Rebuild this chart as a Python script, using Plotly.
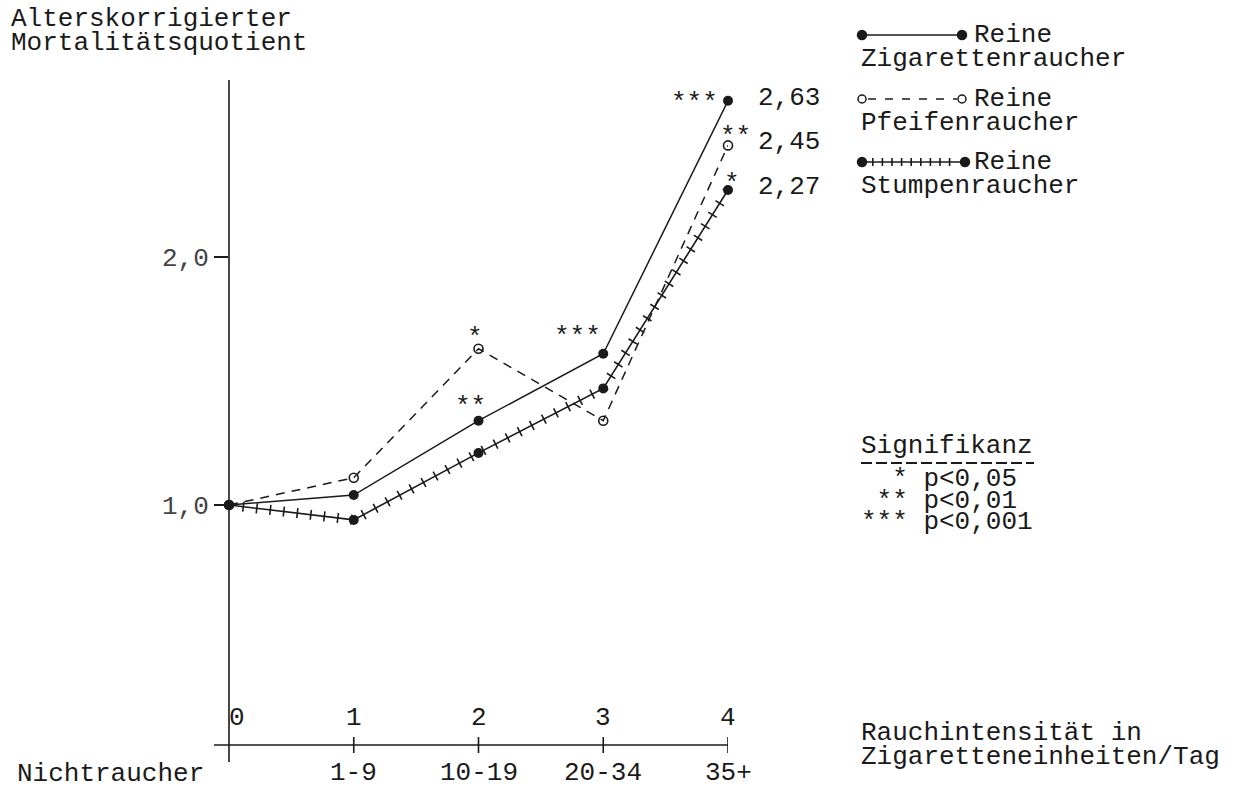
import plotly.graph_objects as go

# ---------------- data ----------------
x_codes = [0, 1, 2, 3, 4]
x_top_labels = ["0", "1", "2", "3", "4"]
x_bottom_labels = ["Nichtraucher", "1-9", "10-19", "20-34", "35+"]

zig = [1.00, 1.04, 1.34, 1.61, 2.63]
pfeife = [1.00, 1.11, 1.63, 1.34, 2.45]
stumpen = [1.00, 0.94, 1.21, 1.47, 2.27]

zig_sig = ["", "", "**", "***", "***"]
pfeife_sig = ["", "", "*", "", "**"]
stumpen_sig = ["", "", "", "", "*"]

end_labels = ["2,63", "2,45", "2,27"]

y_tickvals = [1.0, 2.0]
y_ticktext = ["1,0", "2,0"]

sig_legend = ["\u00a0\u00a0* p<0,05", "\u00a0** p<0,01", "*** p<0,001"]

# ---------------- layout helpers ----------------
W, H = 1240, 789
FONT = "Liberation Mono"
FS = 26
INK = "#1a1a1a"


def px(x):
    return x / W


def py(y):
    return 1 - y / H


# plot geometry (pixels)
X0, X4 = 229, 728
Y_AX, Y_TOP = 745, 80
Y_ONE, PX_PER_UNIT = 505, 248.0
y_lo = 1.0 - (Y_AX - Y_ONE) / PX_PER_UNIT
y_hi = 1.0 + (Y_ONE - Y_TOP) / PX_PER_UNIT

fig = go.Figure()

# Pfeifenraucher: dashed with open circles
fig.add_trace(go.Scatter(
    x=x_codes, y=pfeife, mode="lines+markers",
    line=dict(color=INK, width=1.5, dash="9px,7px"),
    marker=dict(symbol="circle-open", size=9, color=INK, line=dict(width=1.6, color=INK)),
    cliponaxis=False, showlegend=False, hoverinfo="skip"))

# Stumpenraucher: line + cross hatch
fig.add_trace(go.Scatter(
    x=x_codes, y=stumpen, mode="lines",
    line=dict(color=INK, width=10, dash="1.6px,12px"),
    cliponaxis=False, showlegend=False, hoverinfo="skip"))
fig.add_trace(go.Scatter(
    x=x_codes, y=stumpen, mode="lines+markers",
    line=dict(color=INK, width=1.6),
    marker=dict(symbol="circle", size=10, color=INK),
    cliponaxis=False, showlegend=False, hoverinfo="skip"))

# Zigarettenraucher: solid with filled dots
fig.add_trace(go.Scatter(
    x=x_codes, y=zig, mode="lines+markers",
    line=dict(color=INK, width=1.5),
    marker=dict(symbol="circle", size=10, color=INK),
    cliponaxis=False, showlegend=False, hoverinfo="skip"))

shapes = []
annotations = []

# axes lines
shapes.append(dict(type="line", xref="paper", yref="paper",
                   x0=px(X0), x1=px(X0), y0=py(762), y1=py(Y_TOP),
                   line=dict(color=INK, width=1.6)))
shapes.append(dict(type="line", xref="paper", yref="paper",
                   x0=px(214), x1=px(X4), y0=py(Y_AX), y1=py(Y_AX),
                   line=dict(color=INK, width=1.6)))
# x ticks (crossing)
for xc in x_codes[1:]:
    shapes.append(dict(type="line", xref="x", yref="paper",
                       x0=xc, x1=xc, y0=py(Y_AX + 8), y1=py(Y_AX - 8),
                       line=dict(color=INK, width=1.6)))

# x labels
for xc, t in zip(x_codes, x_top_labels):
    annotations.append(dict(xref="x", yref="paper", x=xc, y=py(718), text=t,
                            showarrow=False, xanchor="center", yanchor="middle",
                            xshift=8 if xc == 0 else 0,
                            font=dict(family=FONT, size=FS, color=INK)))
for xc, t in zip(x_codes, x_bottom_labels):
    if xc == 0:
        annotations.append(dict(xref="paper", yref="paper", x=px(15), y=py(774), text=t,
                                showarrow=False, xanchor="left", yanchor="middle",
                                font=dict(family=FONT, size=FS, color=INK)))
    else:
        annotations.append(dict(xref="x", yref="paper", x=xc, y=py(773), text=t,
                                showarrow=False, xanchor="center", yanchor="middle",
                                font=dict(family=FONT, size=FS, color=INK)))

# axis titles
for i, t in enumerate(["Alterskorrigierter", "Mortalitätsquotient"]):
    annotations.append(dict(xref="paper", yref="paper", x=px(9), y=py(19 + 24 * i), text=t,
                            showarrow=False, xanchor="left", yanchor="middle",
                            font=dict(family=FONT, size=FS, color=INK)))
for i, t in enumerate(["Rauchintensität in", "Zigaretteneinheiten/Tag"]):
    annotations.append(dict(xref="paper", yref="paper", x=px(859), y=py(733 + 24 * i), text=t,
                            showarrow=False, xanchor="left", yanchor="middle",
                            font=dict(family=FONT, size=FS, color=INK)))


# significance stars
def add_sig(series, sigs, offsets):
    for xc, v, s in zip(x_codes, series, sigs):
        if s:
            dx, dy = offsets[xc]
            annotations.append(dict(xref="x", yref="y", x=xc, y=v, text=s,
                                    showarrow=False, xanchor="center", yanchor="middle",
                                    xshift=dx, yshift=dy,
                                    font=dict(family=FONT, size=FS, color=INK)))


add_sig(zig, zig_sig, {2: (-8, 14), 3: (-26, 17), 4: (-34, -2)})
add_sig(pfeife, pfeife_sig, {2: (-4, 11), 4: (7, 8)})
add_sig(stumpen, stumpen_sig, {4: (4, 6)})

# end value labels
for v, lab in zip([zig[-1], pfeife[-1], stumpen[-1]], end_labels):
    annotations.append(dict(xref="x", yref="y", x=x_codes[-1], y=v, text=lab,
                            showarrow=False, xanchor="left", yanchor="middle",
                            xshift=28, yshift=3,
                            font=dict(family=FONT, size=FS, color=INK)))

# legend (drawn)
leg = [(35, "Zigarettenraucher", "solid"), (99, "Pfeifenraucher", "dash"), (162, "Stumpenraucher", "hatch")]
for yl, name, style in leg:
    xe2 = 965 if style == "hatch" else 962
    if style == "solid":
        shapes.append(dict(type="line", xref="paper", yref="paper", x0=px(862), x1=px(xe2),
                           y0=py(yl), y1=py(yl), line=dict(color=INK, width=1.5)))
    elif style == "dash":
        shapes.append(dict(type="line", xref="paper", yref="paper", x0=px(868), x1=px(957),
                           y0=py(yl), y1=py(yl), line=dict(color=INK, width=1.5, dash="8px,9px")))
    else:
        shapes.append(dict(type="line", xref="paper", yref="paper", x0=px(862), x1=px(xe2),
                           y0=py(yl), y1=py(yl), line=dict(color=INK, width=1.5)))
        shapes.append(dict(type="line", xref="paper", yref="paper", x0=px(872), x1=px(958),
                           y0=py(yl), y1=py(yl), line=dict(color=INK, width=8, dash="1.6px,8px")))
    for xe in (862, xe2):
        r = 4.5 if style != "dash" else 4
        shapes.append(dict(type="circle", xref="paper", yref="paper",
                           x0=px(xe - r), x1=px(xe + r), y0=py(yl + r), y1=py(yl - r),
                           line=dict(color=INK, width=1.5),
                           fillcolor="white" if style == "dash" else INK))
    annotations.append(dict(xref="paper", yref="paper", x=px(972), y=py(yl), text="Reine",
                            showarrow=False, xanchor="left", yanchor="middle",
                            font=dict(family=FONT, size=FS, color=INK)))
    annotations.append(dict(xref="paper", yref="paper", x=px(859), y=py(yl + 24), text=name,
                            showarrow=False, xanchor="left", yanchor="middle",
                            font=dict(family=FONT, size=FS, color=INK)))

# significance legend
annotations.append(dict(xref="paper", yref="paper", x=px(859), y=py(446), text="Signifikanz",
                        showarrow=False, xanchor="left", yanchor="middle",
                        font=dict(family=FONT, size=FS, color=INK)))
shapes.append(dict(type="line", xref="paper", yref="paper", x0=px(861), x1=px(1034),
                   y0=py(463), y1=py(463), line=dict(color=INK, width=2.2, dash="11px,4px")))
for i, t in enumerate(sig_legend):
    annotations.append(dict(xref="paper", yref="paper", x=px(859), y=py(479 + 21.5 * i), text=t,
                            showarrow=False, xanchor="left", yanchor="middle",
                            font=dict(family=FONT, size=FS, color=INK)))

fig.update_layout(
    width=W, height=H,
    margin=dict(l=0, r=0, t=0, b=0),
    paper_bgcolor="white", plot_bgcolor="white",
    showlegend=False,
    xaxis=dict(domain=[px(X0), px(X4)], range=[0, 4], showgrid=False, zeroline=False,
               showline=False, showticklabels=False, ticks=""),
    yaxis=dict(domain=[py(Y_AX), py(Y_TOP)], range=[y_lo, y_hi], showgrid=False, zeroline=False,
               showline=False, tickmode="array", tickvals=y_tickvals, ticktext=y_ticktext,
               ticks="outside", ticklen=14, tickwidth=1.6, tickcolor=INK,
               tickfont=dict(family=FONT, size=FS, color="#444")),
    shapes=shapes,
    annotations=annotations,
)

fig.write_html("out.html", config={"displayModeBar": False},
               post_script="document.body.style.margin='0';")
